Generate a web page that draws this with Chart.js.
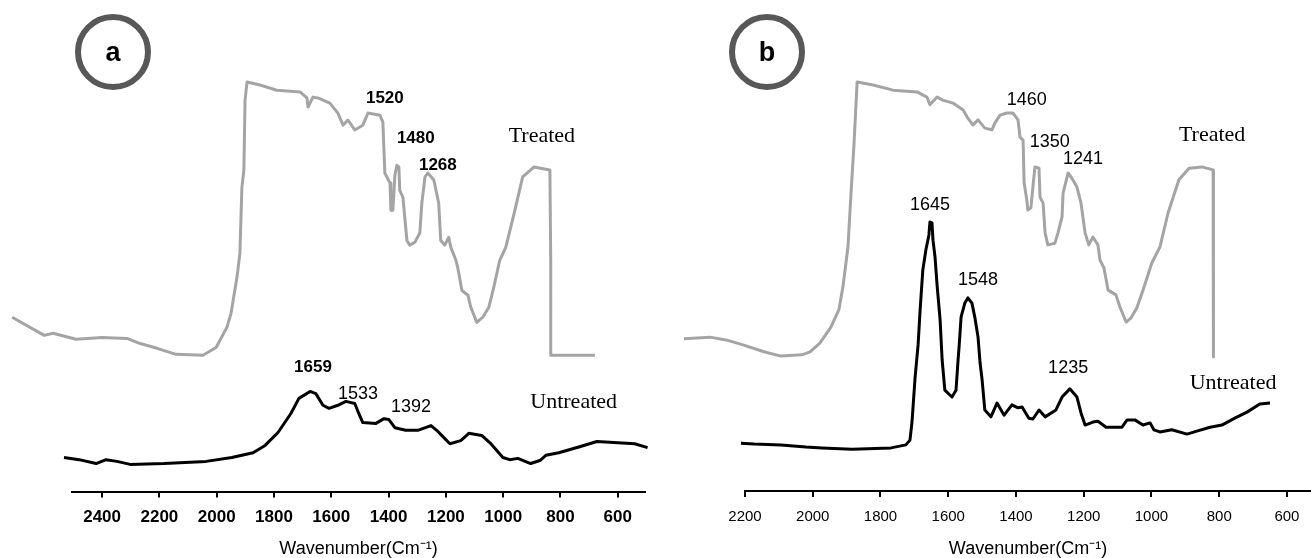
<!DOCTYPE html>
<html lang="en">
<head>
<meta charset="UTF-8">
<title>FTIR spectra: treated vs untreated</title>
<script src="https://cdn.jsdelivr.net/npm/chart.js"></script>
<style>
    body { margin: 0; background: #fff; }
    #wrap { position: relative; width: 1311px; height: 558px; }
    canvas { position: absolute; top: 0; }
</style>
</head>
<body>
<div id="wrap">
    <canvas id="chartA" width="655" height="558" style="left:0"></canvas>
    <canvas id="chartB" width="656" height="558" style="left:655px"></canvas>
</div>
<script>
// ---- panel a ----
const ticksA = [2400, 2200, 2000, 1800, 1600, 1400, 1200, 1000, 800, 600];
const treatedAX = [2714, 2602, 2571, 2491, 2400, 2313, 2267, 2208, 2142, 2048, 2002, 1964, 1950, 1929, 1919,
    1912, 1905, 1901, 1894, 1849, 1790, 1709, 1685, 1681, 1664, 1647, 1605, 1577, 1559, 1542,
    1518, 1490, 1472, 1430, 1420, 1413, 1395, 1392, 1385, 1378, 1371, 1364, 1361, 1350, 1336,
    1326, 1308, 1291, 1284, 1273, 1263, 1242, 1225, 1218, 1204, 1190, 1183, 1165, 1158, 1144,
    1123, 1113, 1092, 1071, 1050, 1033, 1012, 991, 959, 932, 893, 837, 834, 834, 680];
const treatedAY = [40.4, 36.2, 36.7, 35.3, 35.7, 35.5, 34.3, 33.2, 31.8, 31.6, 33.4, 38.1, 41.3, 49.7, 55.2,
    70.5, 74.5, 90.7, 94.9, 94.2, 93.0, 92.6, 91.2, 89.1, 91.4, 91.2, 90.0, 87.7, 84.9, 86.1,
    83.8, 84.9, 87.7, 87.2, 85.6, 73.8, 71.5, 65.2, 65.2, 73.3, 75.6, 75.2, 69.8, 68.2, 58.2,
    57.1, 57.8, 59.9, 66.8, 72.9, 73.8, 72.2, 66.8, 58.2, 57.1, 58.9, 56.6, 53.6, 51.7, 46.6,
    45.5, 42.7, 39.2, 40.4, 42.7, 47.3, 53.6, 56.6, 65.2, 72.9, 75.2, 74.5, 52.9, 31.6, 31.6];
const untreatedAX = [2533, 2480, 2421, 2386, 2348, 2302, 2184, 2037, 1947, 1873, 1831, 1786, 1741, 1713, 1674,
    1654, 1629, 1608, 1577, 1549, 1518, 1504, 1490, 1444, 1416, 1399, 1378, 1340, 1298, 1252,
    1232, 1207, 1186, 1148, 1120, 1075, 1043, 1001, 977, 949, 904, 872, 851, 806, 733,
    673, 614, 541, 496];
const untreatedAY = [7.9, 7.4, 6.5, 7.4, 7.0, 6.3, 6.5, 7.0, 7.9, 9.0, 10.7, 13.7, 18.1, 21.6, 23.2,
    22.7, 20.0, 19.3, 20.0, 20.9, 20.4, 18.1, 16.0, 15.8, 16.9, 16.7, 14.8, 14.2, 14.2, 15.3,
    14.2, 12.5, 11.1, 11.8, 13.5, 13.0, 11.1, 7.9, 7.4, 7.7, 6.5, 7.2, 8.4, 9.0, 10.4,
    11.6, 11.4, 11.1, 10.2];

// ---- panel b ----
const ticksB = [2200, 2000, 1800, 1600, 1400, 1200, 1000, 800, 600];
const treatedBX = [2380, 2303, 2253, 2206, 2144, 2094, 2032, 2008, 1979, 1946, 1923, 1911, 1896, 1887, 1881,
    1878, 1869, 1822, 1763, 1692, 1663, 1654, 1633, 1616, 1586, 1556, 1542, 1527, 1512, 1492,
    1471, 1462, 1447, 1427, 1409, 1394, 1388, 1379, 1376, 1368, 1365, 1356, 1350, 1344, 1332,
    1329, 1320, 1314, 1306, 1285, 1276, 1264, 1261, 1246, 1232, 1220, 1208, 1196, 1185, 1173,
    1158, 1152, 1140, 1128, 1105, 1093, 1075, 1061, 1043, 1025, 999, 975, 951, 919, 889,
    851, 818, 818, 816];
const treatedBY = [35.3, 35.7, 35.0, 33.9, 32.3, 31.3, 31.6, 32.3, 34.3, 38.1, 42.0, 47.3, 56.6, 69.1, 76.8,
    80.7, 94.9, 94.2, 93.0, 92.6, 91.4, 89.6, 91.4, 90.7, 90.0, 88.4, 86.5, 84.9, 86.1, 84.2,
    83.8, 85.4, 87.2, 87.7, 87.7, 86.1, 82.1, 81.4, 71.5, 67.5, 65.2, 65.7, 70.5, 75.2, 74.9,
    68.2, 66.8, 59.9, 57.1, 57.5, 59.9, 63.6, 69.1, 73.8, 72.2, 70.5, 66.8, 59.9, 57.1, 58.9,
    57.1, 53.6, 51.7, 46.6, 45.5, 42.7, 39.2, 40.1, 42.5, 46.6, 52.9, 56.6, 64.5, 72.2, 74.9,
    75.2, 74.5, 52.9, 31.1];
const untreatedBX = [2212, 2173, 2094, 2020, 1973, 1884, 1769, 1725, 1713, 1707, 1698, 1689, 1683, 1675, 1666,
    1657, 1654, 1648, 1645, 1639, 1633, 1624, 1618, 1610, 1589, 1577, 1571, 1568, 1562, 1551,
    1542, 1530, 1521, 1512, 1506, 1500, 1492, 1474, 1456, 1435, 1412, 1394, 1382, 1362, 1350,
    1332, 1314, 1282, 1264, 1241, 1220, 1208, 1196, 1173, 1158, 1134, 1087, 1072, 1049, 1025,
    1004, 993, 975, 940, 895, 866, 827, 792, 754, 718, 680, 650];
const untreatedBY = [11.1, 10.9, 10.7, 10.2, 10.0, 9.7, 10.0, 10.7, 11.8, 16.0, 26.2, 33.9, 42.0, 51.3, 55.9,
    59.4, 62.4, 62.2, 58.2, 54.3, 47.8, 39.7, 30.4, 23.4, 21.8, 23.4, 30.4, 33.4, 40.4, 43.6,
    44.8, 43.6, 40.1, 35.7, 29.7, 25.8, 18.8, 17.2, 20.4, 17.6, 20.0, 19.3, 19.5, 16.9, 16.7,
    18.8, 17.2, 18.8, 21.8, 23.7, 21.8, 18.1, 15.3, 16.0, 16.2, 14.8, 14.8, 16.5, 16.5, 15.3,
    15.8, 14.2, 13.7, 14.2, 13.2, 13.9, 14.8, 15.3, 16.9, 18.3, 20.2, 20.4];

// peak labels, placed in data units (wavenumber, intensity)
const SANS = '"Liberation Sans", Arial, sans-serif';
const SERIF = '"Liberation Serif", "Times New Roman", serif';
const labelsA = [
    { text: '1520', x: 1413, y: 91.2, font: 'bold 17px ' + SANS },
    { text: '1480', x: 1305, y: 81.9, font: 'bold 17px ' + SANS },
    { text: '1268', x: 1228, y: 75.6, font: 'bold 17px ' + SANS },
    { text: 'Treated', x: 865, y: 82.4, font: '22px ' + SERIF },
    { text: '1659', x: 1664, y: 28.8, font: 'bold 17px ' + SANS },
    { text: '1533', x: 1507, y: 22.7, font: '18px ' + SANS },
    { text: '1392', x: 1322, y: 19.5, font: '18px ' + SANS },
    { text: 'Untreated', x: 754, y: 20.6, font: '22px ' + SERIF }
];
const labelsB = [
    { text: '1460', x: 1368, y: 90.7, font: '18px ' + SANS },
    { text: '1350', x: 1300, y: 81.0, font: '18px ' + SANS },
    { text: '1241', x: 1202, y: 77.0, font: '18px ' + SANS },
    { text: 'Treated', x: 821, y: 82.6, font: '22px ' + SERIF },
    { text: '1645', x: 1654, y: 66.4, font: '18px ' + SANS },
    { text: '1548', x: 1512, y: 49.0, font: '18px ' + SANS },
    { text: '1235', x: 1246, y: 28.5, font: '18px ' + SANS },
    { text: 'Untreated', x: 759, y: 25.1, font: '22px ' + SERIF }
];

Chart.defaults.font.family = SANS;
Chart.defaults.color = '#000';

function toPoints(xs, ys) {
    return xs.map((x, i) => ({ x: x, y: ys[i] }));
}

// draws the peak labels and the round panel badge
function labelPlugin(labels, badge) {
    return {
        id: 'peakLabels',
        afterDatasetsDraw(chart) {
            const ctx = chart.ctx;
            const xs = chart.scales.x, ys = chart.scales.y;
            ctx.save();
            ctx.fillStyle = '#000';
            ctx.textAlign = 'center';
            ctx.textBaseline = 'middle';
            labels.forEach(l => {
                ctx.font = l.font;
                ctx.fillText(l.text, xs.getPixelForValue(l.x), ys.getPixelForValue(l.y));
            });
            ctx.beginPath();
            ctx.arc(badge.cx, badge.cy, 35, 0, Math.PI * 2);
            ctx.lineWidth = 6;
            ctx.strokeStyle = '#585858';
            ctx.stroke();
            ctx.font = 'bold 27px ' + SANS;
            ctx.fillText(badge.text, badge.cx, badge.cy + 2);
            ctx.restore();
        }
    };
}

function makeChart(id, p) {
    new Chart(document.getElementById(id), {
        type: 'line',
        data: {
            datasets: [{
                label: 'Treated',
                data: toPoints(p.tx, p.ty),
                borderColor: '#a4a4a4',
                borderWidth: 3,
                borderJoinStyle: 'round',
                pointRadius: 0,
                clip: false
            }, {
                label: 'Untreated',
                data: toPoints(p.ux, p.uy),
                borderColor: '#000',
                borderWidth: 3,
                borderJoinStyle: 'round',
                pointRadius: 0,
                clip: false
            }]
        },
        options: {
            responsive: false,
            animation: false,
            devicePixelRatio: 1,
            layout: { padding: { left: p.padLeft, right: p.padRight, top: 60, bottom: 0 } },
            plugins: { legend: { display: false }, tooltip: { enabled: false } },
            scales: {
                x: {
                    type: 'linear',
                    reverse: true,
                    min: p.min,
                    max: p.max,
                    afterBuildTicks: s => { s.ticks = p.ticks.map(v => ({ value: v })); },
                    border: { color: '#000', width: 2 },
                    grid: { drawOnChartArea: false, color: '#000', lineWidth: 2, tickLength: 6 },
                    ticks: {
                        font: p.tickFont,
                        color: '#000',
                        padding: p.tickPad,
                        autoSkip: false,
                        maxRotation: 0,
                        callback: v => String(v)
                    },
                    title: {
                        display: true,
                        text: 'Wavenumber(Cm⁻¹)',
                        font: { size: 18, lineHeight: 1 },
                        color: '#000',
                        padding: { top: p.titlePad, bottom: 0 }
                    }
                },
                y: { display: false, min: 0, max: 100 }
            }
        },
        plugins: [labelPlugin(p.labels, p.badge)]
    });
}

makeChart('chartA', {
    tx: treatedAX, ty: treatedAY, ux: untreatedAX, uy: untreatedAY,
    ticks: ticksA, min: 505, max: 2505, padLeft: 72, padRight: 10,
    tickFont: { size: 17, weight: 'bold' }, tickPad: 10, titlePad: 2,
    labels: labelsA, badge: { cx: 113, cy: 52, text: 'a' }
});
makeChart('chartB', {
    tx: treatedBX, ty: treatedBY, ux: untreatedBX, uy: untreatedBY,
    ticks: ticksB, min: 529, max: 2200, padLeft: 90, padRight: 0,
    tickFont: { size: 15 }, tickPad: 11, titlePad: 3,
    labels: labelsB, badge: { cx: 112, cy: 52, text: 'b' }
});
</script>
</body>
</html>
